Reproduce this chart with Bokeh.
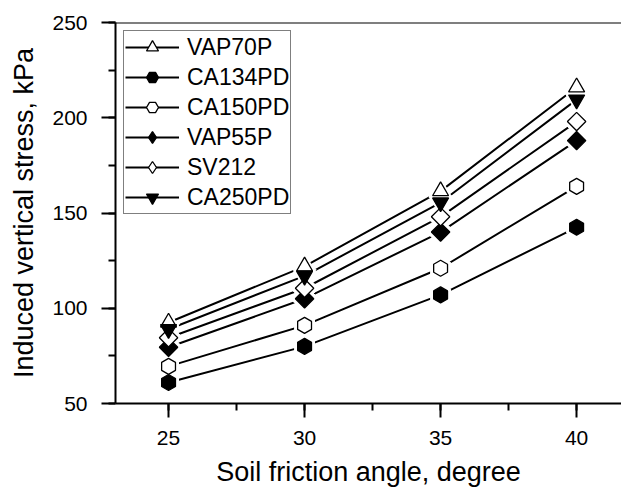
import math
from bokeh.plotting import figure
from bokeh.models import (ColumnDataSource, Legend, LegendItem, SingleIntervalTicker,
                          Range1d, Span)
from bokeh.embed import file_html
from bokeh.resources import INLINE

# ---- data ----
friction_angle = [25, 30, 35, 40]
series_names = ["VAP70P", "CA134PD", "CA150PD", "VAP55P", "SV212", "CA250PD"]
vap70p = [92.5, 122, 161.5, 216]
ca134pd = [61, 80, 107, 142.5]
ca150pd = [69.5, 91, 121, 164]
vap55p = [79.5, 105, 140, 188]
sv212 = [84.5, 110.5, 148, 198]
ca250pd = [89, 117, 155.5, 209.5]
series_values = [vap70p, ca134pd, ca150pd, vap55p, sv212, ca250pd]

X_LABEL = "Soil friction angle, degree"
Y_LABEL = "Induced vertical stress, kPa"

# ---- styles ----
FONT = "Liberation Sans"
# (plot marker, size, angle, filled, legend marker)
styles = [
    ("triangle", 16, 0.0, False, "triangle"),
    ("hex", 16, math.pi / 2, True, "hex"),
    ("hex", 16, math.pi / 2, False, "hex"),
    ("square", 13, math.pi / 4, True, "diamond"),
    ("square", 13, math.pi / 4, False, "diamond"),
    ("inverted_triangle", 16, 0.0, True, "inverted_triangle"),
]

p = figure(width=621, height=489, output_backend="svg", toolbar_location=None,
           x_range=Range1d(23.05, 41.65), y_range=Range1d(50, 250),
           min_border_left=115, min_border_right=0, min_border_top=22,
           min_border_bottom=86)
p.outline_line_color = None
p.background_fill_color = "white"
p.border_fill_color = "white"
p.xgrid.visible = False
p.ygrid.visible = False

for ax, interval in ((p.xaxis[0], 5), (p.yaxis[0], 50)):
    ax.ticker = SingleIntervalTicker(interval=interval, num_minor_ticks=2)
    ax.axis_line_width = 2
    ax.major_tick_line_width = 2
    ax.minor_tick_line_width = 2
    ax.major_tick_out = 14
    ax.major_tick_in = 0
    ax.minor_tick_out = 7
    ax.minor_tick_in = 0
    ax.major_label_text_font = FONT
    ax.major_label_text_font_size = "21px"
    ax.major_label_text_color = "black"
    ax.axis_label_text_font = FONT
    ax.axis_label_text_font_size = "27px"
    ax.axis_label_text_font_style = "normal"
    ax.axis_label_text_color = "black"

p.xaxis.axis_label = X_LABEL
p.yaxis.axis_label = Y_LABEL
p.xaxis.major_label_standoff = 13
p.yaxis.major_label_standoff = 14
p.xaxis.axis_label_standoff = 9
p.yaxis.axis_label_standoff = 10

# top border
p.add_layout(Span(location=p.y_range.end, dimension="width", line_color="black",
                  line_width=2))

sources = [ColumnDataSource(dict(x=friction_angle, y=vals)) for vals in series_values]

line_rs = []
for src in sources:
    line_rs.append(p.line("x", "y", source=src, line_color="black", line_width=2))

halo_rs = []
for src, (mk, sz, ang, filled, lmk) in zip(sources, styles):
    halo_rs.append(p.scatter("x", "y", source=src, marker=mk, size=sz + 7, angle=ang,
                             fill_color="white", line_color="white", line_width=1))

marker_rs = []
legend_marker_rs = []
for src, (mk, sz, ang, filled, lmk) in zip(sources, styles):
    fill = "black" if filled else "white"
    marker_rs.append(p.scatter("x", "y", source=src, marker=mk, size=sz, angle=ang,
                               fill_color=fill, line_color="black", line_width=1.3))
    lr = p.scatter("x", "y", source=src, marker=lmk, size=sz, fill_color=fill,
                   line_color="black", line_width=1.3)
    lr.visible = False
    legend_marker_rs.append(lr)

items = [LegendItem(label=name, renderers=[l, m])
         for name, l, m in zip(series_names, line_rs, legend_marker_rs)]
legend = Legend(items=items, location="top_left", margin=8, padding=1,
                spacing=0, glyph_width=54, glyph_height=30, label_height=24,
                label_standoff=8, label_text_font=FONT, label_text_font_size="23px",
                label_text_color="black", border_line_color="black",
                border_line_width=1, background_fill_color="white",
                background_fill_alpha=1, click_policy="none")
p.add_layout(legend)

open("out.html", "w").write(file_html(p, INLINE))
